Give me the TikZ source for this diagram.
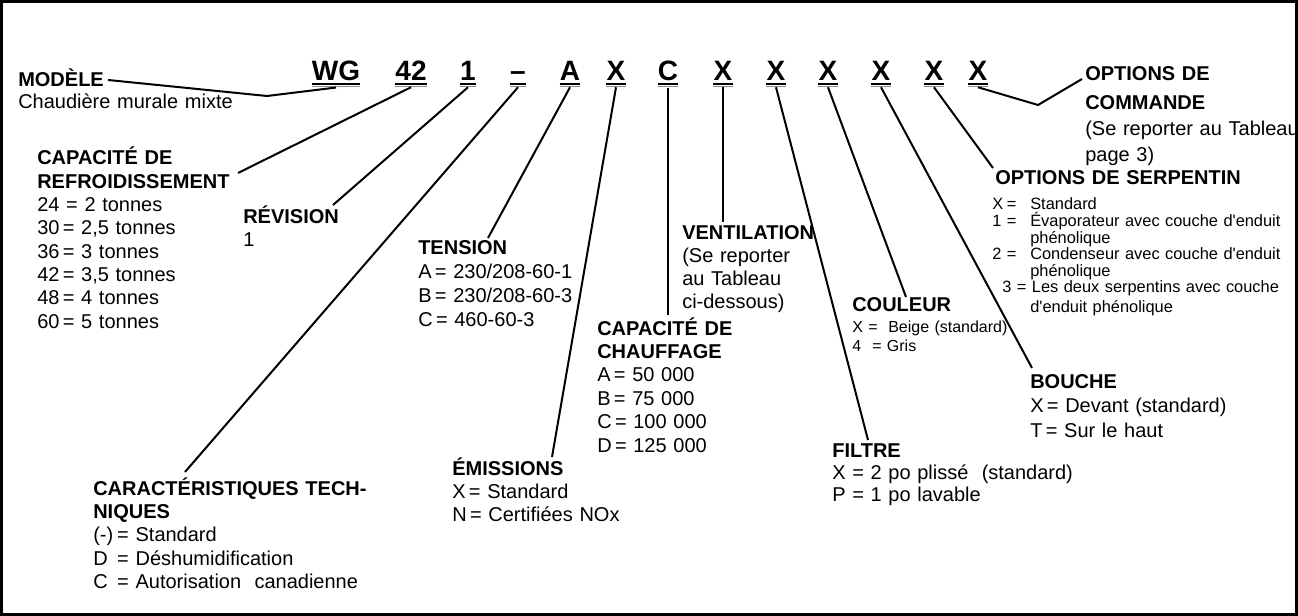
\documentclass[tikz,border=0pt]{standalone}
\usepackage{fontspec}
\setmainfont{Liberation Sans}
\newcommand{\fs}[2]{\fontsize{#1}{#2}\selectfont}
\newcommand{\lab}[1]{\makebox[18pt][l]{#1}= }
\newcommand{\slab}[1]{\makebox[28.5pt][l]{\makebox[11pt][l]{#1}=}}
\newcommand{\aq}{\textquotesingle}
\begin{document}
\begin{tikzpicture}[x=0.75pt,y=-0.75pt,
  code/.style={font=\fs{21}{25}\bfseries, anchor=base, inner xsep=0pt, inner ysep=4.5pt},
  uline/.style={line width=1.2pt},
  ushadow/.style={line width=0.75pt, black!45},
  conn/.style={line width=1.5pt, line join=miter},
  lbl/.style={anchor=base west, inner sep=0pt, text width=#1, align=left},
  lbl/.default=250pt]
\useasboundingbox (0,0) rectangle (1298,616);
\draw[line width=2.25pt] (1.5,1.5) rectangle (1296.5,614.5);

% code letters
\foreach \n/\x/\t in {c1/336/WG, c2/411/42, c3/468/1, c4/518/–, c5/570/A, c6/616/X, c7/668/C, c8/723/X, c9/776/X, c10/828/X, c11/881/X, c12/934/X, c13/978/X} {
  \node[code] (\n) at (\x,81) {\t};
  \draw[uline] ([yshift=-2.1pt]\n.base west) -- ([yshift=-2.1pt]\n.base east);
  \draw[ushadow] ([yshift=-3.8pt]\n.base west) -- ([yshift=-3.8pt]\n.base east);
}

% labels
\node[lbl, font=\fs{15}{16.5}] (modele) at (18,87) {\textbf{MODÈLE}\\Chaudière murale mixte};
\node[lbl, font=\fs{15}{17.5}] (refroid) at (37,165) {\textbf{CAPACITÉ DE}\\\textbf{REFROIDISSEMENT}\\24 = 2 tonnes\\30\,= 2,5 tonnes\\36\,= 3 tonnes\\42\,= 3,5 tonnes\\48\,= 4 tonnes\\60\,= 5 tonnes};
\node[lbl, font=\fs{15}{17.25}] (revision) at (243,224) {\textbf{RÉVISION}\\1};
\node[lbl, font=\fs{15}{17.8}] (tension) at (418,255) {\textbf{TENSION}\\A\,= 230/208-60-1\\B\,= 230/208-60-3\\C\,= 460-60-3};
\node[lbl, font=\fs{15}{17.6}] (caract) at (93,495) {\textbf{CARACTÉRISTIQUES TECH-}\\\textbf{NIQUES}\\\lab{(-)}Standard\\\lab{D}Déshumidification\\\lab{C}Autorisation\ \ canadienne};
\node[lbl, font=\fs{15}{17.6}] (emissions) at (452,475) {\textbf{ÉMISSIONS}\\X\,= Standard\\N\,= Certifiées NOx};
\node[lbl, font=\fs{15}{17.6}] (chauffage) at (597,335) {\textbf{CAPACITÉ DE}\\\textbf{CHAUFFAGE}\\A\,= 50 000\\B\,= 75 000\\C\,= 100 000\\D\,= 125 000};
\node[lbl, font=\fs{15}{17.25}] (ventilation) at (682,240) {\textbf{VENTILATION}\\(Se reporter\\au Tableau\\ci-dessous)};
\node[lbl, font=\fs{15}{16.5}] (filtre) at (832,457) {\textbf{FILTRE}\\X = 2 po plissé\ \ (standard)\\P = 1 po lavable};
\node[lbl, font=\fs{15}{17}\bfseries] (couleur) at (852,312) {COULEUR};
\node[lbl, font=\fs{12}{13.5}] (couleuritems) at (852,333) {\makebox[27pt][l]{X = }Beige (standard)\\\makebox[15pt][l]{4}= Gris};
\node[lbl, font=\fs{15}{18.4}] (bouche) at (1030,388) {\textbf{BOUCHE}\\X\,= Devant (standard)\\T\,= Sur le haut};
\node[lbl, font=\fs{15}{17}\bfseries] (serpentin) at (995,185) {OPTIONS DE SERPENTIN};
\node[lbl, font=\fs{12.3}{12.4}] (serpitems) at (992,210) {\slab{X}Standard\\\slab{1}Évaporateur avec couche d\aq enduit\\\hspace*{28.5pt}phénolique\\\slab{2}Condenseur avec couche d\aq enduit\\\hspace*{28.5pt}phénolique\\\hspace*{7.5pt}3 = Les deux serpentins avec couche\\[2.6pt]\hspace*{28.5pt}d\aq enduit phénolique};
\node[lbl, font=\fs{15}{19.5}] (commande) at (1085,81) {\textbf{OPTIONS DE}\\[2.2pt]\textbf{COMMANDE}\\(Se reporter au Tableau\\page 3)};

% connector ends
\coordinate (kMod) at (267,96);
\coordinate (eMod) at (108,80);
\coordinate (eRef) at (238,173);
\coordinate (eRev) at (333,205);
\coordinate (eCar) at (185,472);
\coordinate (eTen) at (488,238);
\coordinate (eEmi) at (552,457);
\coordinate (eCha) at (668,315);
\coordinate (eVen) at (723,222);
\coordinate (eFil) at (868,440);
\coordinate (eCou) at (906,297);
\coordinate (eBou) at (1032,368);
\coordinate (eSer) at (993,168);
\coordinate (kCom) at (1038,105);
\coordinate (eCom) at (1082,79);

\draw[conn] (c1.south) -- (kMod) -- (eMod);
\draw[conn] (c2.south) -- (eRef);
\draw[conn] (c3.south) -- (eRev);
\draw[conn] (c4.south) -- (eCar);
\draw[conn] (c5.south) -- (eTen);
\draw[conn] (c6.south) -- (eEmi);
\draw[conn] (c7.south) -- (eCha);
\draw[conn] (c8.south) -- (eVen);
\draw[conn] (c9.south) -- (eFil);
\draw[conn] (c10.south) -- (eCou);
\draw[conn] (c11.south) -- (eBou);
\draw[conn] (c12.south) -- (eSer);
\draw[conn] (c13.south) -- (kCom) -- (eCom);
\end{tikzpicture}
\end{document}
